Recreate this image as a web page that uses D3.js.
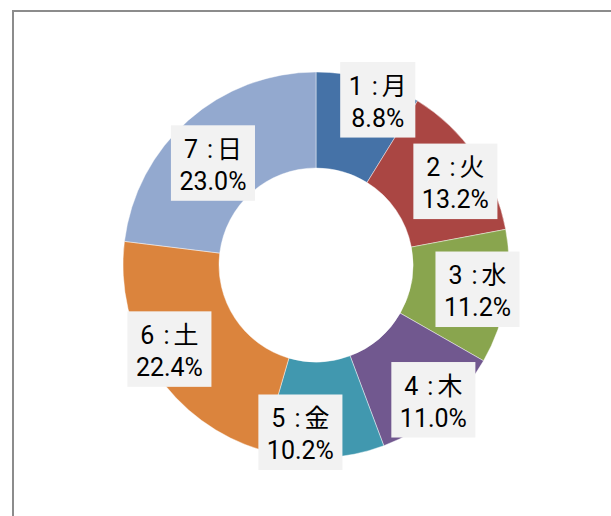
<!DOCTYPE html>
<html>
<head>
<meta charset="utf-8">
<script src="https://cdn.jsdelivr.net/npm/d3@7"></script>
<style>
  html, body { margin: 0; padding: 0; background: #fff; }
  svg { display: block; }
  text { font-family: Roboto, "Noto Sans CJK JP", sans-serif; }
</style>
</head>
<body>
<svg id="chart" width="611" height="516"></svg>
<script>
// ---- data ----
const categoryNumbers = ["1", "2", "3", "4", "5", "6", "7"];
const categories = ["月", "火", "水", "木", "金", "土", "日"];
const values = [8.8, 13.2, 11.2, 11.0, 10.2, 22.4, 23.0];
const valueLabels = ["8.8%", "13.2%", "11.2%", "11.0%", "10.2%", "22.4%", "23.0%"];
const colors = ["#4572A7", "#AA4643", "#89A54E", "#71588F", "#4198AF", "#DB843D", "#93A9CF"];

// label placement tweaks: [angle shift in degrees, radius as fraction of outer radius]
const labelShift = [[4.6, 0.915], [3.4, 0.843], [-1.1, 0.846], [-0.7, 0.925], [7.5, 0.869], [3.6, 0.875], [-3.75, 0.752]];

const W = 611, H = 516;
const cx = 316, cy = 265, outerR = 193, innerR = 97;

const svg = d3.select("#chart");

// chart area frame
svg.append("rect")
  .attr("x", 13).attr("y", 11)
  .attr("width", W + 20).attr("height", H + 20)
  .attr("fill", "#fff")
  .attr("stroke", "#8c8c8c")
  .attr("stroke-width", 2);

const pie = d3.pie().sort(null).value(d => d)(values);
const arc = d3.arc().innerRadius(innerR).outerRadius(outerR);

const g = svg.append("g").attr("transform", `translate(${cx},${cy})`);

g.selectAll("path.slice")
  .data(pie)
  .join("path")
  .attr("class", "slice")
  .attr("d", arc)
  .attr("fill", (d, i) => colors[i])
  .attr("stroke", "rgba(255,255,255,0.55)")
  .attr("stroke-width", 0.8);

// labels
const labels = g.selectAll("g.lab")
  .data(pie)
  .join("g")
  .attr("class", "lab")
  .attr("transform", (d, i) => {
    const a = (d.startAngle + d.endAngle) / 2 + labelShift[i][0] * Math.PI / 180;
    const r = labelShift[i][1] * outerR;
    return `translate(${r * Math.sin(a)},${-r * Math.cos(a)})`;
  });

labels.each(function (d, i) {
  const sel = d3.select(this);
  const rect = sel.append("rect").attr("fill", "#F2F2F2");
  const t1 = sel.append("text")
    .attr("text-anchor", "middle")
    .attr("y", -5)
    .attr("font-size", 25)
    .attr("fill", "#000");
  t1.append("tspan").text(categoryNumbers[i]);
  t1.append("tspan").attr("dx", 9).text(":");
  t1.append("tspan").attr("dx", 4).attr("font-family", "'Noto Sans CJK JP'").text(categories[i]);
  const t2 = sel.append("text")
    .attr("text-anchor", "middle")
    .attr("y", 27)
    .attr("font-size", 25)
    .attr("fill", "#000")
    .text(valueLabels[i]);
  const w = Math.max(t1.node().getBBox().width, t2.node().getComputedTextLength());
  const bw = w + 17;
  rect.attr("x", -bw / 2).attr("y", -37.5).attr("width", bw).attr("height", 75.5);
});
</script>
</body>
</html>
